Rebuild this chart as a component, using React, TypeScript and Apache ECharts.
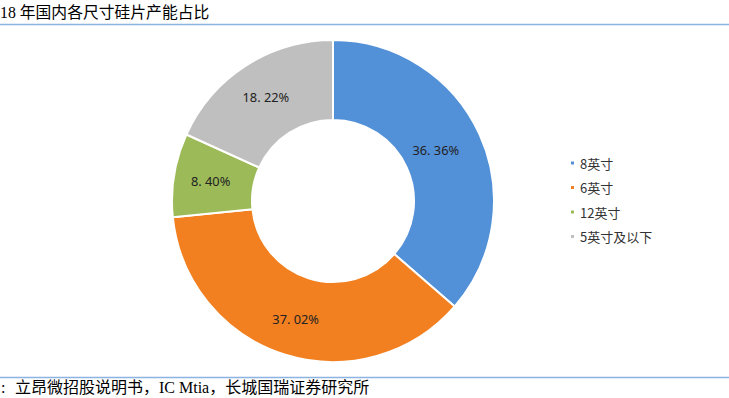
import React, { useEffect, useRef } from "react";
import * as echarts from "echarts";

const categories = ["8英寸", "6英寸", "12英寸", "5英寸及以下"];
const values = [36.36, 37.02, 8.4, 18.22];
const labelTexts = ["36. 36%", "37. 02%", "8. 40%", "18. 22%"];
const colors = ["#5290d8", "#f28020", "#9cbb58", "#bfbfbf"];
const titleText = "18 年国内各尺寸硅片产能占比";
const sourcePrefix = ":";
const sourceText = "立昂微招股说明书，IC Mtia，长城国瑞证券研究所";

export default function App() {
  const ref = useRef<HTMLDivElement>(null);
  useEffect(() => {
    if (!ref.current) return;
    const chart = echarts.init(ref.current, null, { renderer: "svg" });
    const serif = '"Liberation Serif", "Noto Sans CJK SC", serif';
    chart.setOption({
      animation: false,
      backgroundColor: "#ffffff",
      color: colors,
      legend: {
        orient: "vertical",
        left: 564,
        top: 151,
        itemWidth: 5,
        itemHeight: 5,
        itemGap: 10.5,
        icon: "rect",
        data: categories,
        textStyle: {
          fontSize: 13,
          lineHeight: 14,
          color: "#333333",
          fontFamily: '"Noto Sans CJK SC", "Noto Sans", sans-serif',
        },
      },
      graphic: [
        {
          type: "text",
          left: 0,
          top: 5,
          style: { text: titleText, fontSize: 15.8, fill: "#000000", fontFamily: serif },
        },
        {
          type: "line",
          shape: { x1: 0, y1: 24.5, x2: 729, y2: 24.5 },
          style: { stroke: "#8db3e2", lineWidth: 1.5 },
        },
        {
          type: "line",
          shape: { x1: 0, y1: 377.5, x2: 729, y2: 377.5 },
          style: { stroke: "#8db3e2", lineWidth: 1.5 },
        },
        {
          type: "text",
          left: 1,
          top: 379,
          style: { text: sourcePrefix, fontSize: 16, fill: "#000000", fontFamily: serif },
        },
        {
          type: "text",
          left: 15,
          top: 379,
          style: { text: sourceText, fontSize: 16, fill: "#000000", fontFamily: serif },
        },
      ],
      series: [
        {
          type: "pie",
          center: [333, 201],
          radius: [81, 161],
          startAngle: 90,
          clockwise: true,
          avoidLabelOverlap: false,
          itemStyle: { borderColor: "#ffffff", borderWidth: 2 },
          label: {
            show: true,
            position: "inside",
            fontSize: 12.8,
            color: "#222222",
            fontFamily: '"Noto Sans", "Noto Sans CJK SC", sans-serif',
            formatter: (p: any) => labelTexts[p.dataIndex],
          },
          labelLine: { show: false },
          emphasis: { disabled: true },
          data: categories.map((name, i) =>
            i === 0
              ? { name, value: values[i], label: { offset: [-10, 1] } }
              : { name, value: values[i] }
          ),
        },
      ],
    });
    return () => chart.dispose();
  }, []);
  return (
    <div
      ref={ref}
      style={{ position: "fixed", left: 0, top: 0, width: 729, height: 398 }}
    />
  );
}
